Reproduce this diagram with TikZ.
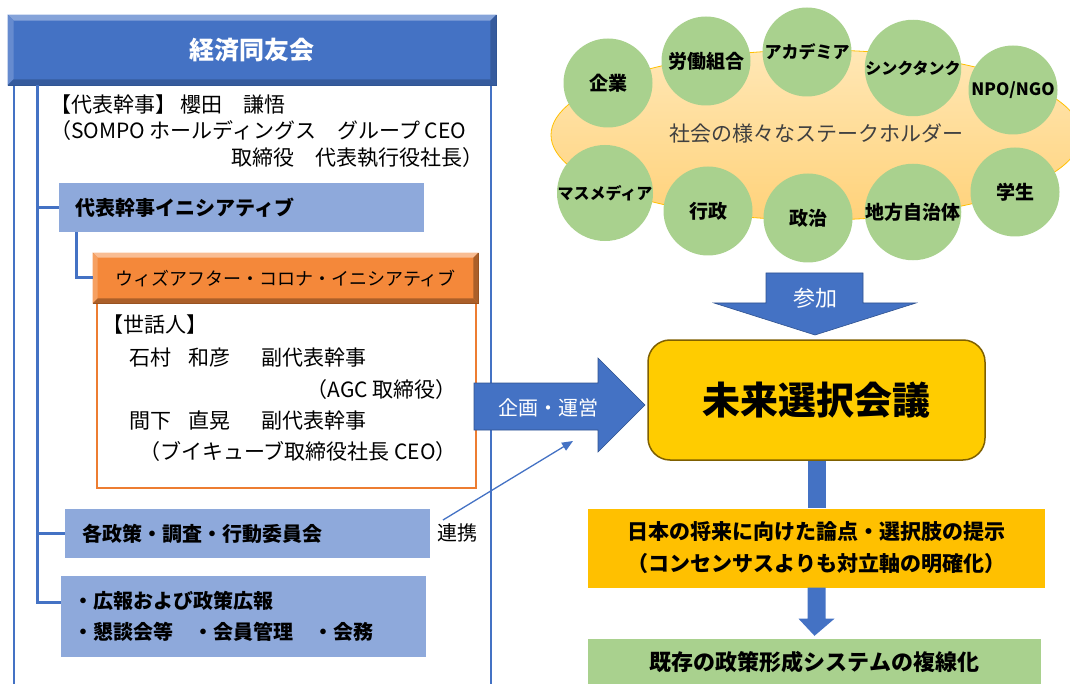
\documentclass[tikz,border=0pt]{standalone}
\usepackage{fontspec}
\setmainfont{Noto Sans CJK JP}
\usetikzlibrary{calc,shapes.geometric,arrows.meta}
\definecolor{blueA}{HTML}{4472C4}
\definecolor{blueD}{HTML}{2F528F}
\definecolor{blueL}{HTML}{8EA9DB}
\definecolor{orgH}{HTML}{F4883A}
\definecolor{orgL}{HTML}{ED7D31}
\definecolor{goldA}{HTML}{FFCC00}
\definecolor{goldD}{HTML}{7F6000}
\definecolor{ambA}{HTML}{FFC000}
\definecolor{grnA}{HTML}{A9D18E}
\definecolor{ellT}{HTML}{FFE7B5}
\definecolor{ellB}{HTML}{FFD27A}
\newcommand\jpsize[1]{\fontsize{#1}{#1}\selectfont}
\newcommand\bevelbox[5]{%
  \fill[#3] (#1.north west) -- (#1.north east) -- ($(#1.north east)+(-#2,#2)$) -- ($(#1.north west)+(#2,#2)$) -- cycle;
  \fill[#4] (#1.north west) -- ($(#1.north west)+(#2,#2)$) -- ($(#1.south west)+(#2,-#2)$) -- (#1.south west) -- cycle;
  \fill[#5] (#1.south west) -- (#1.south east) -- ($(#1.south east)+(-#2,-#2)$) -- ($(#1.south west)+(#2,-#2)$) -- cycle;
  \fill[#5] (#1.north east) -- ($(#1.north east)+(-#2,#2)$) -- ($(#1.south east)+(-#2,-#2)$) -- (#1.south east) -- cycle;
}
\tikzset{
  txt/.style={inner sep=0pt, font=\jpsize{21}},
  stxt/.style={inner sep=0pt, font=\jpsize{21}},
  lbox/.style={fill=blueL, anchor=north west, align=left, font=\bfseries\jpsize{20}},
  tree/.style={draw=blueA, line width=3pt},
  frameline/.style={draw=blueA, line width=1.5pt},
  circ/.style={circle, fill=grnA, minimum size=89pt, inner sep=0pt, font=\bfseries\jpsize{19}},
  blockarrow/.style={fill=blueA, draw=blueD, line width=0.6pt},
}
\begin{document}
\begin{tikzpicture}[x=1pt,y=-1pt]
\useasboundingbox (0,0) rectangle (1070,684);

% ---------- left frame ----------
\coordinate (fL1) at (14,85);  \coordinate (fL2) at (14,684);
\coordinate (fR1) at (491,85); \coordinate (fR2) at (491,684);
\draw[frameline] (fL1) -- (fL2);
\draw[frameline] (fR1) -- (fR2);

\node[minimum width=488pt, minimum height=70pt, inner sep=0pt, fill=blueA, draw=blueD, line width=0.6pt] (keizai) at (252,50) {};
\bevelbox{keizai}{6}{blueA!65!white}{blueA!82!white}{blueA!80!black}
\node[inner sep=0pt, text=white, font=\bfseries\jpsize{25}] (keizaiT) at (keizai.center) {経済同友会};

\node[txt, anchor=west] (rep1) at (50,105) {【代表幹事】 櫻田　謙悟};
\node[txt, anchor=west] (rep2) at (50,131) {（SOMPO ホールディングス　グループ CEO};
\node[txt, anchor=east] (rep3) at (484,158) {取締役　代表執行役社長）};

\node[lbox, minimum height=49pt, text width=333pt, inner xsep=16pt] (daihyo) at (59,183) {代表幹事イニシアティブ};

\node[draw=orgL, line width=1.5pt, minimum width=379pt, minimum height=184pt, inner sep=0pt, anchor=north west] (sewa) at (96,303) {};

\node[minimum width=385pt, minimum height=50pt, inner sep=0pt, fill=orgH, draw=orgL!60!black, line width=0.6pt] (wac) at (285.5,278) {};
\bevelbox{wac}{5}{orgH!55!white}{orgH!80!white}{orgH!70!black}
\node[inner sep=0pt, font=\jpsize{18}] (wacT) at (wac.center) {ウィズアフター・コロナ・イニシアティブ};

\node[stxt, anchor=west] (sw0) at (102,325) {【世話人】};
\node[stxt, anchor=west] (sw1) at (129,358) {石村\hspace{17pt}和彦\hspace{31pt}副代表幹事};
\node[stxt, anchor=east] (sw2) at (457,390) {（AGC 取締役）};
\node[stxt, anchor=west] (sw3) at (129,421) {間下\hspace{17pt}直晃\hspace{31pt}副代表幹事};
\node[stxt, anchor=east] (sw4) at (457,452) {（ブイキューブ取締役社長 CEO）};

\node[lbox, minimum height=49pt, text width=331pt, inner xsep=17pt] (kaku) at (65,509) {各政策・調査・行動委員会};
\node[lbox, minimum height=81pt, text width=341pt, inner xsep=12pt, font=\bfseries\fontsize{20}{31}\selectfont] (kouhou) at (61,576) {・広報および政策広報\\・懇談会等　・会員管理　・会務};

% tree connectors
\coordinate (trunk) at (37,85);
\coordinate (trunkEnd) at ($(kouhou.north west)+(0,26)$);
\draw[tree] (trunk) |- (trunkEnd);
\draw[tree] (trunk |- daihyo.west) -- (daihyo.west);
\draw[tree] (trunk |- kaku.west) -- (kaku.west);
\coordinate (br) at ($(daihyo.south west)+(17,0)$);
\draw[tree] (br) |- (wac.west);

\node[txt, font=\jpsize{20}, anchor=west] (renkei) at (437,533) {連携};

% ---------- right side ----------
\shade[top color=ellT, bottom color=ellB, draw=ambA, line width=0.8pt] (816,135) ellipse [x radius=265, y radius=85];
\node[inner sep=0pt, font=\jpsize{21}, text=black!75] (ell) at (816,133) {社会の様々なステークホルダー};

\node[circ] (c1) at (608,83) {企業};
\node[circ] (c2) at (706,61) {労働組合};
\node[circ, font=\bfseries\jpsize{17}] (c3) at (807,52) {アカデミア};
\node[circ, font=\bfseries\jpsize{16}] (c4) at (913,68) {シンクタンク};
\node[circ, font=\bfseries\jpsize{17}] (c5) at (1013,90) {NPO/NGO};
\node[circ, font=\bfseries\jpsize{16}] (c6) at (605,193) {マスメディア};
\node[circ] (c7) at (708,211) {行政};
\node[circ] (c8) at (808,218) {政治};
\node[circ] (c9) at (913,212) {地方自治体};
\node[circ] (c10) at (1015,192) {学生};

\node[rounded corners=22pt, fill=goldA, draw=goldD, line width=1.5pt, minimum width=337pt, minimum height=120pt,
      inner sep=0pt, font=\bfseries\jpsize{38}] (mirai) at (816.5,400) {未来選択会議};

% 参加 arrow
\draw[blockarrow] (766,273) -- (863,273) -- (863,303) -- (916,303) -- (815,335) -- (714,303) -- (766,303) -- cycle;
\node[inner sep=0pt, text=white, font=\jpsize{22}] (sanka) at (815,298) {参加};

% 企画・運営 arrow
\draw[blockarrow] (474,383) -- (598,383) -- (598,358) -- (645,405) -- (598,452) -- (598,430) -- (474,430) -- cycle;
\node[inner sep=0pt, text=white, font=\jpsize{20}] (kikaku) at (548,408) {企画・運営};

% 連携 thin arrow
\coordinate (rkS) at (443,520);
\coordinate (rkE) at (573,441);
\draw[blueA, line width=1.3pt, -{Triangle[length=11pt,width=9pt]}] (rkS) -- (rkE);

\node[fill=ambA, minimum width=457pt, minimum height=79pt, inner sep=0pt, align=center,
      font=\bfseries\fontsize{21}{32}\selectfont] (ronten) at (816.5,548)
      {日本の将来に向けた論点・選択肢の提示\\（コンセンサスよりも対立軸の明確化）};

\node[fill=grnA, minimum width=453pt, minimum height=47pt, inner sep=0pt,
      font=\bfseries\jpsize{22}] (kizon) at (814.5,662.5) {既存の政策形成システムの複線化};

% stem and down arrow
\fill[blueA] ($(mirai.south)+(-9,0)$) rectangle ($(ronten.north)+(9,0)$);
\fill[blueA] ($(ronten.south)+(-9,0)$) -- ($(ronten.south)+(9,0)$) -- ($(ronten.south)+(9,31)$) -- ($(ronten.south)+(18,31)$)
   -- ($(kizon.north)+(0,-3)$) -- ($(ronten.south)+(-18,31)$) -- ($(ronten.south)+(-9,31)$) -- cycle;
\end{tikzpicture}
\end{document}
